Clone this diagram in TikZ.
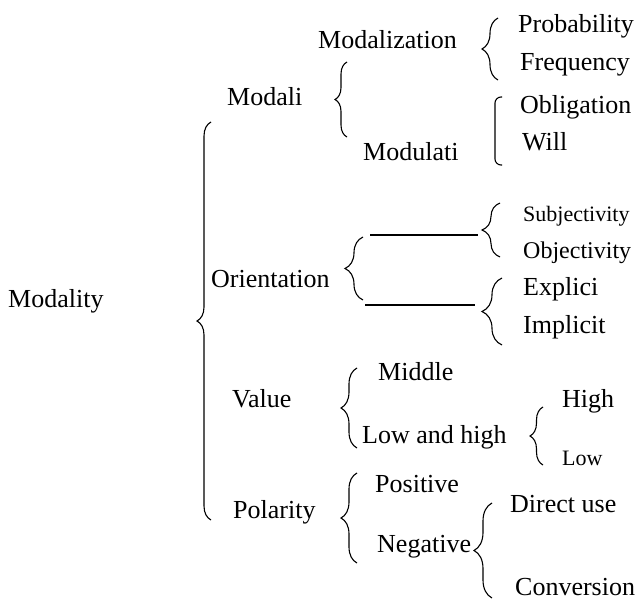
\documentclass[tikz,border=0pt]{standalone}
\usepackage{fontspec}
\setmainfont{Liberation Serif}
\usetikzlibrary{decorations.pathreplacing}
\begin{document}
\begin{tikzpicture}[x=1pt,y=-1pt,
  txt/.style={anchor=base west,inner sep=0pt,font=\fontsize{26}{30}\selectfont},
  brc/.style={decorate,decoration={brace,amplitude=#1},line width=1.1pt}]

\useasboundingbox (0,0) rectangle (643,613);

\node [txt] at (8,307) (modality) {Modality};
\node [txt] at (227,105) (modali) {Modali};
\node [txt] at (318,48) (modalization) {Modalization};
\node [txt] at (518,32) (probability) {Probability};
\node [txt] at (520,70) (frequency) {Frequency};
\node [txt] at (363,160) (modulati) {Modulati};
\node [txt] at (520,113) (obligation) {Obligation};
\node [txt] at (522,150) (will) {Will};
\node [txt] at (211,287) (orientation) {Orientation};
\node [txt,font=\fontsize{22}{26}\selectfont] at (523,221) (subjectivity) {Subjectivity};
\node [txt,font=\fontsize{24}{28}\selectfont] at (523,258) (objectivity) {Objectivity};
\node [txt] at (523,295) (explici) {Explici};
\node [txt] at (523,333) (implicit) {Implicit};
\node [txt] at (232,407) (value) {Value};
\node [txt] at (378,380) (middle) {Middle};
\node [txt] at (362,443) (lowhigh) {Low and high};
\node [txt] at (562,407) (high) {High};
\node [txt,font=\fontsize{22}{26}\selectfont] at (562,465) (low) {Low};
\node [txt] at (233,518) (polarity) {Polarity};
\node [txt] at (375,492) (positive) {Positive};
\node [txt] at (377,552) (negative) {Negative};
\node [txt] at (510,512) (direct) {Direct use};
\node [txt] at (515,595) (conversion) {Conversion};

\draw [brc=14] (211,520) -- (211,122);
\draw [brc=12] (347,137) -- (347,62);
\draw [brc=16] (498,80) -- (498,18);
\draw [line width=1.1pt,rounded corners=6pt] (502,97) -- (495,97) -- (495,165) -- (502,165);
\draw [brc=18] (363,300) -- (363,237);
\draw [brc=18] (500,257) -- (500,203);
\draw [brc=20] (502,345) -- (502,278);
\draw [brc=16] (357,448) -- (357,368);
\draw [brc=13] (543,465) -- (543,407);
\draw [brc=16] (357,563) -- (357,473);
\draw [brc=18] (492,598) -- (492,503);

\coordinate (o1) at (370,235);
\coordinate (s1) at (478,235);
\coordinate (o2) at (365,305);
\coordinate (e1) at (475,305);

\draw [line width=1.1pt] (o1) -- (s1);
\draw [line width=1.1pt] (o2) -- (e1);

\end{tikzpicture}
\end{document}
